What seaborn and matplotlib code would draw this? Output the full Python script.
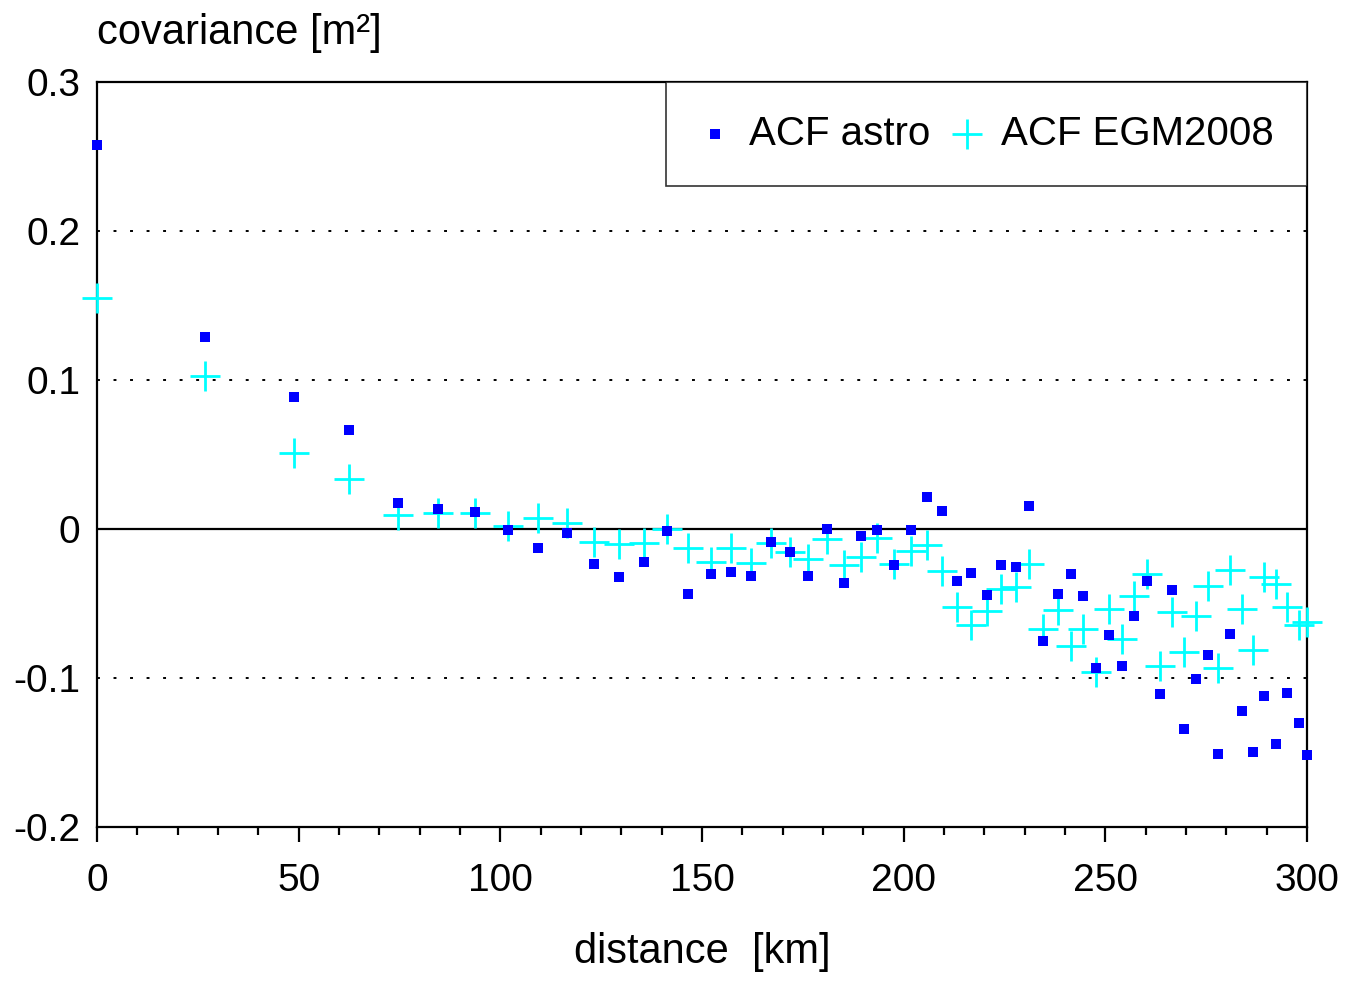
import numpy as np
import pandas as pd
import matplotlib
matplotlib.use("Agg")
import matplotlib.pyplot as plt
from matplotlib.ticker import MultipleLocator, FuncFormatter
import seaborn as sns

# distances [km] shared by both autocovariance series
distance = [0.0, 26.8, 48.8, 62.5, 74.6, 84.6, 93.6, 101.9, 109.3, 116.5,
            123.2, 129.4, 135.5, 141.2, 146.5, 152.2, 157.3, 162.1, 167.1, 171.7,
            176.4, 180.9, 185.1, 189.4, 193.5, 197.6, 201.7, 205.8, 209.5, 213.1,
            216.7, 220.7, 224.2, 227.9, 231.1, 234.6, 238.3, 241.4, 244.5, 247.7,
            250.8, 254.2, 257.1, 260.3, 263.6, 266.6, 269.5, 272.5, 275.5, 278.0,
            281.0, 283.9, 286.6, 289.3, 292.2, 295.0, 297.9, 300.0]

acf_astro = [0.258, 0.129, 0.0886, 0.0664, 0.0174, 0.0134, 0.0114, -0.0007, -0.0128, -0.0027,
             -0.0235, -0.0322, -0.0221, -0.0013, -0.0436, -0.0302, -0.0289, -0.0315, -0.0087, -0.0154,
             -0.0315, 0.0, -0.0362, -0.0047, -0.0007, -0.0242, -0.0007, 0.0215, 0.0121, -0.0349,
             -0.0295, -0.0443, -0.0242, -0.0255, 0.0154, -0.0752, -0.0436, -0.0302, -0.0450, -0.0933,
             -0.0711, -0.0920, -0.0584, -0.0349, -0.1110, -0.0409, -0.1340, -0.1010, -0.0846, -0.1510,
             -0.0705, -0.1220, -0.1500, -0.1120, -0.1440, -0.1100, -0.1300, -0.1520]

acf_egm = [0.155, 0.1027, 0.051, 0.0336, 0.0094, 0.0107, 0.0107, 0.002, 0.0074, 0.004,
           -0.0087, -0.0101, -0.0094, 0.0, -0.0128, -0.0221, -0.0128, -0.0228, -0.0094, -0.0154,
           -0.0201, -0.0067, -0.0242, -0.0188, -0.006, -0.0235, -0.0148, -0.0107, -0.0282, -0.0523,
           -0.0644, -0.055, -0.0403, -0.0389, -0.0235, -0.0671, -0.0544, -0.0785, -0.0671, -0.096,
           -0.0537, -0.0738, -0.045, -0.0302, -0.092, -0.0557, -0.0826, -0.0584, -0.0383, -0.0933,
           -0.0275, -0.0537, -0.0812, -0.0322, -0.0369, -0.0523, -0.0644, -0.0624]

df = pd.DataFrame({"distance": distance, "astro": acf_astro, "egm": acf_egm})

sns.set_theme(style="white", rc={"text.color": "black", "axes.labelcolor": "black",
                                 "xtick.color": "black", "ytick.color": "black"})
plt.rcParams['font.family'] = ['Liberation Sans', 'DejaVu Sans']
plt.rcParams['axes.unicode_minus'] = False

fig = plt.figure(figsize=(13.51, 9.88), dpi=100)
ax = fig.add_axes([97 / 1351, 1 - 827 / 988, (1307 - 97) / 1351, (827 - 82) / 988])

# crosses first so the squares sit on top
sns.scatterplot(data=df, x="distance", y="egm", marker="+", color="#00ffff",
                s=480, linewidth=2.0, ax=ax, label="ACF EGM2008", zorder=3, clip_on=False)
sns.scatterplot(data=df, x="distance", y="astro", marker="s", color="#0000ff",
                s=42, linewidth=0, ax=ax, label="ACF astro", zorder=4, clip_on=False)

ax.set_xlim(0, 300)
ax.set_ylim(-0.2, 0.3)

# dotted grid, solid zero line
for yv in [-0.1, 0.1, 0.2]:
    ax.axhline(yv, color="black", lw=1.4, linestyle=(0, (1.5, 7)), zorder=1)
ax.axhline(0, color="black", lw=1.6, zorder=2)

ax.xaxis.set_major_locator(MultipleLocator(50))
ax.xaxis.set_minor_locator(MultipleLocator(10))
ax.yaxis.set_major_locator(MultipleLocator(0.1))
ax.yaxis.set_major_formatter(FuncFormatter(lambda v, p: "%g" % round(v, 2)))

ax.tick_params(axis="x", which="major", direction="out", length=11, width=1.6,
               labelsize=28, pad=15, color="black", bottom=True)
ax.tick_params(axis="x", which="minor", direction="out", length=5.5, width=1.6,
               color="black", bottom=True)
ax.tick_params(axis="y", which="major", length=0, labelsize=28, pad=12, left=True)

for sp in ax.spines.values():
    sp.set_color("black")
    sp.set_linewidth(1.6)

ax.set_xlabel("distance  [km]", fontsize=30, labelpad=24)
ax.set_ylabel("covariance [m²]", fontsize=30, rotation=0, ha="left", va="center")
ax.yaxis.set_label_coords(0.0, 1.066)

handles, labels = ax.get_legend_handles_labels()
leg = ax.legend(handles[::-1], labels[::-1], loc="upper right", ncol=2, fontsize=29,
                frameon=True, fancybox=False, edgecolor="black", borderaxespad=0,
                handlelength=0.8, handletextpad=0.45, columnspacing=0.5,
                borderpad=0.82, markerscale=1.0)
leg.get_frame().set_linewidth(1.2)

fig.savefig("out.png", dpi=100)
